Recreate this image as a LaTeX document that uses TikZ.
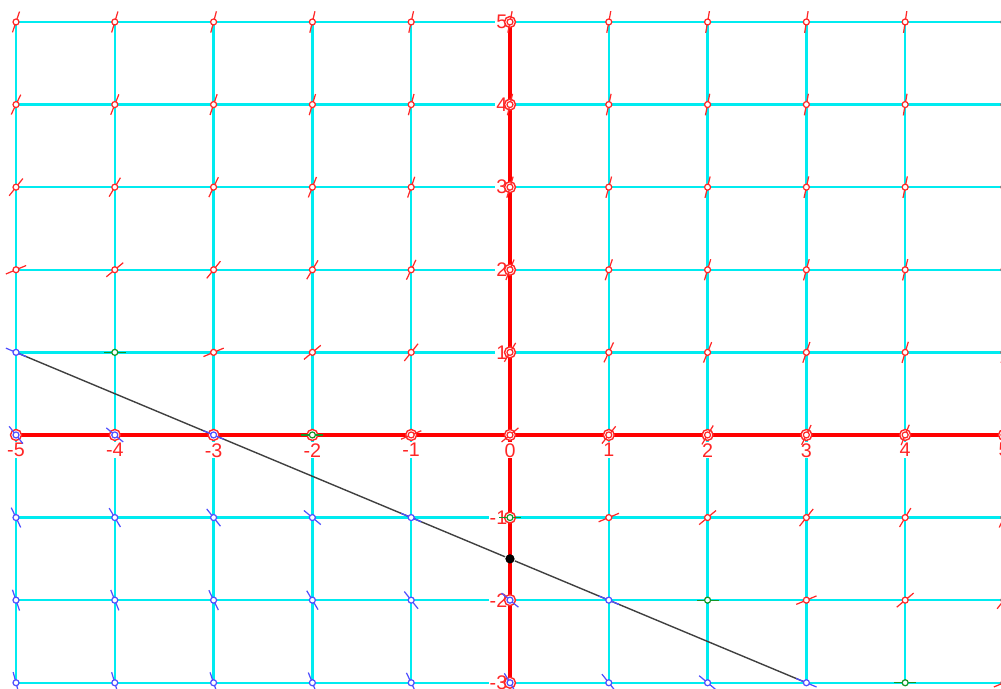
\documentclass[tikz,border=0pt]{standalone}
\usepackage{fontspec}
\setmainfont{Liberation Sans}
\definecolor{gridcyan}{RGB}{0,235,240}
\definecolor{slopered}{RGB}{255,40,40}
\definecolor{slopeblue}{RGB}{80,80,255}
\definecolor{slopegreen}{RGB}{20,150,40}
\usetikzlibrary{calc}

\begin{document}
\begin{tikzpicture}[x=0.988cm, y=0.826cm,
    gridline/.style={gridcyan, line width=0.7pt},
    axisline/.style={red, line width=1.15pt},
    ticklabel/.style={font=\fontsize{5.6}{6}\selectfont, text=red!85, fill=white, inner sep=0.3pt},
    slopemark/.style={line width=0.35pt},
    axisring/.style={red!85, line width=0.4pt, fill=white},
    solution/.style={black!75, line width=0.4pt}
  ]
    \useasboundingbox (-5.162,-3.075) rectangle (4.97,5.266);

    % Grid
    \foreach \x in {-5,...,5}
      \draw[gridline] (\x,-3) -- (\x,5);
    \foreach \y in {-3,...,5}
      \draw[gridline] (-5,\y) -- (5,\y);

    % Axes
    \draw[axisline] (-5,0) -- (5,0);
    \draw[axisline] (0,-3) -- (0,5);

    % Axis labels
    \foreach \x in {-5,...,5}
      \node[ticklabel, anchor=north] (xl\x) at (\x,-0.08) {\x};
    \foreach \y in {-3,-2,-1,1,2,3,4,5}
      \node[ticklabel, anchor=east] (yl\y) at (-0.01,\y) {\y};

    % Straight solution through the marked point
    \coordinate (lstart) at (-5,1);
    \coordinate (lend) at (3,-3);
    \node[circle, fill=black, inner sep=0pt, minimum size=0.09cm] (pt) at (0,-1.5) {};
    \draw[solution] (lstart) -- (pt) -- (lend);

    % Rings on the axes
    \foreach \x in {-5,...,5}
      \draw[axisring] (\x,0) circle[radius=0.055cm];
    \foreach \y in {-3,-2,-1,1,2,3,4,5}
      \draw[axisring] (0,\y) circle[radius=0.055cm];

    % Slope marks, dy/dx = x/2 + y + 1
    \foreach \x in {-5,...,5}
      \foreach \y in {-3,...,5} {
        \pgfmathsetmacro\slope{\x/2+\y+1}
        \pgfmathsetmacro\ang{atan2(\slope*0.826,0.988)}
        \ifdim\slope pt>0pt \def\mcol{slopered}\else
          \ifdim\slope pt<0pt \def\mcol{slopeblue}\else \def\mcol{slopegreen}\fi\fi
        \draw[slopemark, \mcol] ([shift={(\ang:0.11cm)}]\x,\y) -- ([shift={(\ang+180:0.11cm)}]\x,\y);
        \draw[slopemark, \mcol, fill=white] (\x,\y) circle[radius=0.03cm];
      }

    \node[circle, fill=black, inner sep=0pt, minimum size=0.09cm] at (pt) {};
  \end{tikzpicture}
\end{document}
